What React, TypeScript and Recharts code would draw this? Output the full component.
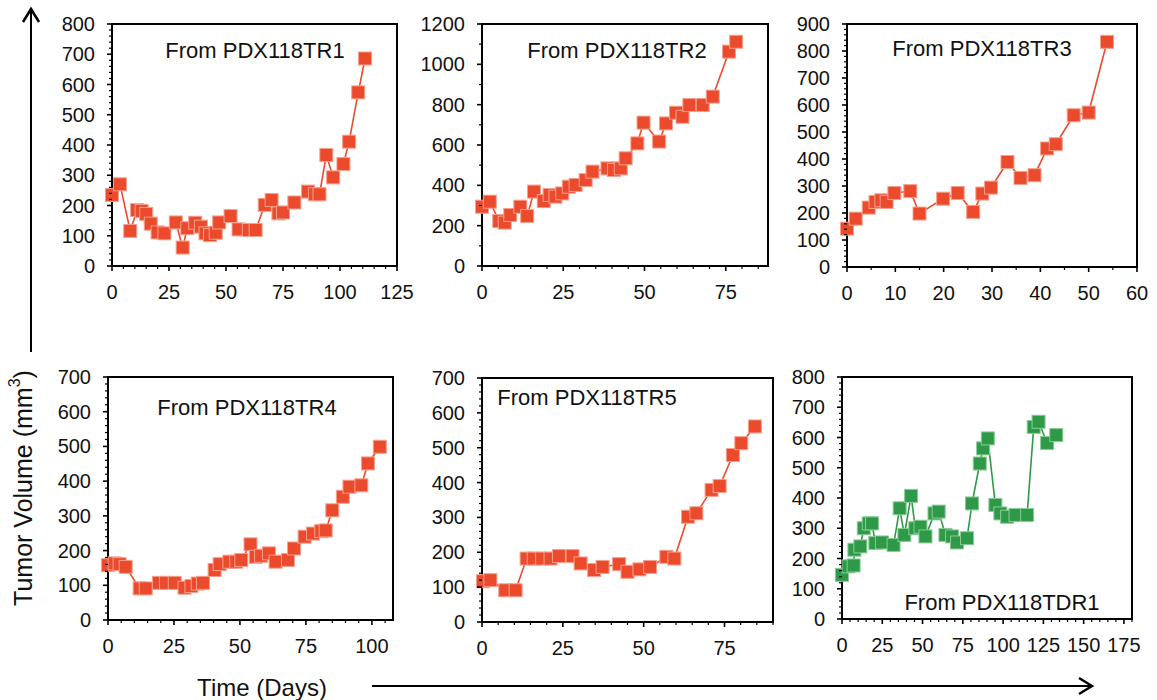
import { LineChart, Line, XAxis, YAxis, ReferenceArea } from 'recharts';

const RED = '#EC4A2C';
const RED_EDGE = '#F6A08E';
const GREEN = '#2E9A47';
const GREEN_EDGE = '#8BCB98';
const FONT = '"Liberation Sans", Arial, Helvetica, sans-serif';

// PDX118TR1
const tr1Days = [0, 3.5, 8, 11, 13, 15, 17, 20, 23, 28, 31, 33, 36.5, 39, 41, 43, 45.5, 47, 52, 55.5, 60, 63, 67, 70, 73, 75, 80, 86, 89, 91, 94, 97, 101.5, 104, 108, 111];
const tr1Vol = [235, 270, 116, 185, 182, 172, 140, 111, 108, 144, 61, 125, 143, 130, 108, 102, 110, 144, 165, 121, 119, 119, 202, 218, 174, 177, 210, 246, 237, 237, 367, 293, 337, 411, 574, 686];

// PDX118TR2
const tr2Days = [0, 2.4, 5.3, 7, 8.7, 11.8, 13.9, 16, 19, 20.8, 22.6, 24.7, 26.7, 28.8, 31.9, 34, 38.6, 40.6, 42.7, 44.2, 47.8, 49.7, 54.5, 56.6, 59.7, 61.7, 63.8, 67.9, 71, 76, 78.2];
const tr2Vol = [294, 319, 223, 215, 253, 294, 248, 369, 322, 352, 344, 360, 393, 402, 426, 468, 484, 476, 484, 534, 608, 711, 617, 707, 760, 740, 798, 798, 840, 1063, 1112];

// PDX118TR3
const tr3Days = [0, 1.8, 4.5, 5.9, 7.1, 8.2, 9.8, 13.1, 15, 19.9, 22.9, 26.1, 28, 29.8, 33.2, 35.9, 38.8, 41.4, 43.2, 46.9, 50, 53.8];
const tr3Vol = [142, 179, 220, 241, 247, 241, 274, 281, 198, 253, 274, 204, 272, 294, 389, 330, 340, 439, 455, 562, 572, 834];

// PDX118TR4
const tr4Days = [0, 2.5, 4.4, 6.7, 12, 14.3, 19.3, 22, 25.3, 29, 31.6, 34, 36, 40.4, 42.3, 46, 48.6, 50.5, 54, 56, 58, 61, 63.5, 68.2, 70.5, 74.5, 77.7, 80.8, 82.5, 85, 89, 91.5, 96, 98.5, 103];
const tr4Vol = [158, 163, 161, 153, 91, 91, 107, 107, 107, 93, 98, 105, 107, 144, 161, 168, 168, 173, 218, 182, 185, 192, 168, 173, 206, 240, 249, 256, 258, 316, 355, 384, 388, 451, 499];

// PDX118TR5
const tr5Days = [0.3, 2.6, 7.2, 10.4, 13.8, 16, 18.6, 21.2, 23.8, 28, 30.5, 34.7, 37.3, 42.4, 45, 48.7, 52, 57, 59.5, 63.7, 66.3, 71, 73.5, 77.6, 80.2, 84.4];
const tr5Vol = [117, 120, 91, 91, 182, 182, 182, 182, 189, 189, 168, 149, 158, 166, 144, 151, 158, 187, 182, 302, 312, 379, 390, 479, 513, 561];

// PDX118TDR1
const tdr1Days = [0, 4, 7.2, 7.7, 11.4, 13.5, 16.6, 18.6, 20.7, 24.8, 32, 35.8, 38.7, 42.9, 45.5, 48.7, 51.8, 57.4, 60, 64.2, 68.3, 71.4, 77.6, 80.7, 85.5, 87.6, 90.5, 95.2, 98.3, 102.5, 107.7, 114.9, 119, 122, 127.3, 133];
const tdr1Vol = [146, 174, 177, 229, 240, 300, 316, 316, 251, 253, 245, 366, 278, 407, 300, 305, 273, 349, 355, 278, 273, 253, 267, 382, 514, 564, 597, 377, 349, 338, 344, 344, 635, 652, 582, 608];

// tick labels
const xTicks125 = [0, 25, 50, 75, 100, 125];
const xTicks75 = [0, 25, 50, 75];
const xTicks60 = [0, 10, 20, 30, 40, 50, 60];
const xTicks100 = [0, 25, 50, 75, 100];
const xTicks175 = [0, 25, 50, 75, 100, 125, 150, 175];
const yTicks800 = [0, 100, 200, 300, 400, 500, 600, 700, 800];
const yTicks1200 = [0, 200, 400, 600, 800, 1000, 1200];
const yTicks900 = [0, 100, 200, 300, 400, 500, 600, 700, 800, 900];
const yTicks700 = [0, 100, 200, 300, 400, 500, 600, 700];

const zip = (d: number[], v: number[]) => d.map((day, i) => ({ day, vol: v[i] }));

const panels = [
  { title: 'From PDX118TR1', data: zip(tr1Days, tr1Vol), color: RED, edge: RED_EDGE, l: 112, t: 24, r: 397, b: 266, xMax: 125, xTicks: xTicks125, xMinor: 5, yMax: 800, yTicks: yTicks800, yMinor: 20, tx: 255, ty: 50 },
  { title: 'From PDX118TR2', data: zip(tr2Days, tr2Vol), color: RED, edge: RED_EDGE, l: 482, t: 24, r: 768, b: 266, xMax: 88, xTicks: xTicks75, xMinor: 5, yMax: 1200, yTicks: yTicks1200, yMinor: 100, tx: 617, ty: 50 },
  { title: 'From PDX118TR3', data: zip(tr3Days, tr3Vol), color: RED, edge: RED_EDGE, l: 847, t: 24, r: 1137, b: 267, xMax: 60, xTicks: xTicks60, xMinor: 5, yMax: 900, yTicks: yTicks900, yMinor: 20, tx: 982, ty: 48 },
  { title: 'From PDX118TR4', data: zip(tr4Days, tr4Vol), color: RED, edge: RED_EDGE, l: 108, t: 377, r: 393, b: 620, xMax: 108, xTicks: xTicks100, xMinor: 5, yMax: 700, yTicks: yTicks700, yMinor: 20, tx: 247, ty: 407 },
  { title: 'From PDX118TR5', data: zip(tr5Days, tr5Vol), color: RED, edge: RED_EDGE, l: 482, t: 378, r: 773, b: 622, xMax: 90, xTicks: xTicks75, xMinor: 5, yMax: 700, yTicks: yTicks700, yMinor: 20, tx: 587, ty: 397 },
  { title: 'From PDX118TDR1', data: zip(tdr1Days, tdr1Vol), color: GREEN, edge: GREEN_EDGE, l: 842, t: 377, r: 1132, b: 619, xMax: 180, xTicks: xTicks175, xMinor: 5, yMax: 800, yTicks: yTicks800, yMinor: 20, tx: 1002, ty: 602 },
];

const steps = (max: number, step: number) => {
  const out: number[] = [];
  for (let v = 0; v <= max + 1e-9; v += step) out.push(v);
  return out;
};

const YTick = (props: any) => {
  const { x, y, payload, majors } = props;
  const isMajor = majors.includes(payload.value);
  return (
    <g>
      <line x1={x - (isMajor ? 5 : 3)} x2={x} y1={y} y2={y} stroke="#000" strokeWidth={isMajor ? 1.6 : 1.2} />
      {isMajor && (
        <text x={x - 17} y={y} textAnchor="end" dominantBaseline="central" fontSize={20} fontFamily={FONT} fill="#111">
          {payload.value}
        </text>
      )}
    </g>
  );
};

const XTick = (props: any) => {
  const { x, y, payload, majors } = props;
  const isMajor = majors.includes(payload.value);
  return (
    <g>
      <line x1={x} x2={x} y1={y} y2={y + (isMajor ? 5 : 3)} stroke="#000" strokeWidth={isMajor ? 1.6 : 1.2} />
      {isMajor && (
        <text x={x} y={y + 26} textAnchor="middle" dominantBaseline="central" fontSize={20} fontFamily={FONT} fill="#111">
          {payload.value}
        </text>
      )}
    </g>
  );
};

const M = { top: 14, right: 24, bottom: 0, left: 0 };

const Panel = ({ p }: { p: (typeof panels)[number] }) => {
  const width = p.r - p.l + 60 + M.right;
  const height = p.b - p.t + M.top + 40;
  const Square = (d: any) => (
    <rect key={`s${d.index}`} x={d.cx - 6.5} y={d.cy - 6.5} width={13} height={13} fill={p.color} stroke={p.edge} strokeWidth={1} />
  );
  return (
    <div style={{ position: 'absolute', left: p.l - 60, top: p.t - M.top }}>
      <LineChart width={width} height={height} data={p.data} margin={M}>
        <XAxis
          type="number"
          dataKey="day"
          domain={[0, p.xMax]}
          ticks={steps(p.xMax, p.xMinor)}
          interval={0}
          height={40}
          axisLine={false}
          tickLine={false}
          tickSize={0}
          tickMargin={0}
          tick={(t: any) => <XTick {...t} majors={p.xTicks} />}
        />
        <YAxis
          type="number"
          domain={[0, p.yMax]}
          ticks={steps(p.yMax, p.yMinor)}
          interval={0}
          width={60}
          axisLine={false}
          tickLine={false}
          tickSize={0}
          tickMargin={0}
          tick={(t: any) => <YTick {...t} majors={p.yTicks} />}
        />
        <ReferenceArea x1={0} x2={p.xMax} y1={0} y2={p.yMax} fill="none" stroke="#000" strokeWidth={2} />
        <Line
          type="linear"
          dataKey="vol"
          stroke={p.color}
          strokeWidth={1.6}
          dot={Square}
          activeDot={false}
          isAnimationActive={false}
        />
      </LineChart>
    </div>
  );
};

export default function App() {
  return (
    <div style={{ position: 'absolute', left: 0, top: 0, width: 1157, height: 700, background: '#fff', fontFamily: FONT }}>
      {panels.map((p) => (
        <Panel key={p.title} p={p} />
      ))}
      <svg width={1157} height={700} style={{ position: 'absolute', left: 0, top: 0, pointerEvents: 'none' }}>
        {panels.map((p) => (
          <text key={p.title} x={p.tx} y={p.ty} textAnchor="middle" dominantBaseline="central" fontSize={22} fontFamily={FONT} fill="#111">
            {p.title}
          </text>
        ))}
        <text
          transform="translate(23,488) rotate(-90)"
          textAnchor="middle"
          dominantBaseline="central"
          fontSize={25}
          fontFamily={FONT}
          fill="#111"
        >
          Tumor Volume (mm<tspan dy={-9} fontSize={16}>3</tspan><tspan dy={9}>)</tspan>
        </text>
        <line x1={31} y1={352} x2={31} y2={10} stroke="#000" strokeWidth={2} />
        <polyline points="23,22 31,9 39,22" fill="none" stroke="#000" strokeWidth={2.5} />
        <text x={262} y={687} textAnchor="middle" dominantBaseline="central" fontSize={24} fontFamily={FONT} fill="#111">
          Time (Days)
        </text>
        <line x1={372} y1={686} x2={1090} y2={686} stroke="#000" strokeWidth={2} />
        <polyline points="1079,678 1092,686 1079,694" fill="none" stroke="#000" strokeWidth={2.5} />
      </svg>
    </div>
  );
}
